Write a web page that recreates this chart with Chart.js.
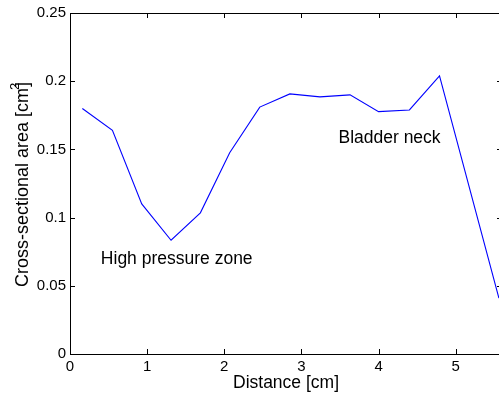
<!DOCTYPE html>
<html>
<head>
<meta charset="utf-8">
<script src="https://cdn.jsdelivr.net/npm/chart.js@4.4.1/dist/chart.umd.min.js"></script>
<style>
  html, body { margin: 0; padding: 0; background: #fff; overflow: hidden; }
  #wrap { width: 530px; height: 394px; }
</style>
</head>
<body>
<div id="wrap"><canvas id="c" width="530" height="394"></canvas></div>
<script>
// Data
const distance = [0.16, 0.55, 0.93, 1.31, 1.69, 2.07, 2.46, 2.85, 3.24, 3.63, 4.00, 4.40, 4.79, 5.56];
const area     = [0.180, 0.164, 0.110, 0.0834, 0.1035, 0.1476, 0.181, 0.1907, 0.1885, 0.1900, 0.1777, 0.1789, 0.2039, 0.041];
const xTicks = [0, 1, 2, 3, 4, 5];
const yTicks = [0, 0.05, 0.1, 0.15, 0.2, 0.25];
const xLabel = 'Distance [cm]';
const yLabelMain = 'Cross-sectional area [cm';
const yLabelSup = '2';
const yLabelEnd = ']';
const notes = [
  { text: 'High pressure zone', x: 0.40, y: 0.0693 },
  { text: 'Bladder neck', x: 3.48, y: 0.158 }
];

const FONT = '"Liberation Sans", Arial, Helvetica, sans-serif';

const boxPlugin = {
  id: 'matlabBox',
  afterDraw(chart) {
    const ctx = chart.ctx;
    const a = chart.chartArea;
    const xs = chart.scales.x, ys = chart.scales.y;
    ctx.save();
    ctx.strokeStyle = '#000';
    ctx.lineWidth = 1;
    ctx.beginPath();
    ctx.rect(Math.round(a.left) + 0.5, Math.round(a.top) + 0.5, Math.round(a.right - a.left), Math.round(a.bottom - a.top));
    ctx.stroke();
    const tl = 5;
    ctx.beginPath();
    xTicks.forEach(v => {
      const px = Math.round(xs.getPixelForValue(v)) + 0.5;
      ctx.moveTo(px, a.bottom); ctx.lineTo(px, a.bottom - tl);
      ctx.moveTo(px, a.top); ctx.lineTo(px, a.top + tl);
    });
    yTicks.forEach(v => {
      const py = Math.round(ys.getPixelForValue(v)) + 0.5;
      ctx.moveTo(a.left, py); ctx.lineTo(a.left + tl, py);
      ctx.moveTo(a.right, py); ctx.lineTo(a.right - tl, py);
    });
    ctx.stroke();

    // annotations
    ctx.fillStyle = '#000';
    ctx.font = '17.5px ' + FONT;
    ctx.textAlign = 'left';
    ctx.textBaseline = 'middle';
    notes.forEach(n => {
      ctx.fillText(n.text, xs.getPixelForValue(n.x), ys.getPixelForValue(n.y));
    });

    // y axis label with superscript
    ctx.save();
    ctx.translate(28, 287);
    ctx.rotate(-Math.PI / 2);
    ctx.textBaseline = 'alphabetic';
    ctx.font = '18px ' + FONT;
    ctx.fillText(yLabelMain, 0, 0);
    const w = ctx.measureText(yLabelMain).width;
    ctx.fillText(yLabelEnd, w + 1, 0);
    ctx.font = '13px ' + FONT;
    ctx.fillText(yLabelSup, w - 2, -9);
    ctx.restore();
    ctx.restore();
  }
};

new Chart(document.getElementById('c'), {
  type: 'line',
  data: {
    datasets: [{
      data: distance.map((d, i) => ({ x: d, y: area[i] })),
      borderColor: '#0000ff',
      borderWidth: 1.1,
      pointRadius: 0,
      tension: 0,
      fill: false
    }]
  },
  options: {
    responsive: false,
    animation: false,
    devicePixelRatio: 1,
    layout: { padding: { left: 0, top: 13, right: 28, bottom: 0 } },
    plugins: { legend: { display: false }, tooltip: { enabled: false } },
    scales: {
      x: {
        type: 'linear', min: 0, max: 5.6,
        afterFit(s) { s.height = 40; },
        afterBuildTicks(s) { s.ticks = xTicks.map(v => ({ value: v })); },
        grid: { display: false, drawTicks: false },
        border: { display: false },
        ticks: { color: '#000', font: { family: FONT, size: 15 }, padding: 4, maxRotation: 0,
                 callback: v => String(v) },
        title: { display: true, text: xLabel, color: '#000', font: { family: FONT, size: 17.5 }, padding: { top: 0, bottom: 0 } }
      },
      y: {
        type: 'linear', min: 0, max: 0.25,
        afterFit(s) { s.width = 70; },
        afterBuildTicks(s) { s.ticks = yTicks.map(v => ({ value: v })); },
        grid: { display: false, drawTicks: false },
        border: { display: false },
        ticks: { color: '#000', font: { family: FONT, size: 15 }, padding: 4,
                 callback: v => String(Math.round(v * 100) / 100) }
      }
    }
  },
  plugins: [boxPlugin]
});
</script>
</body>
</html>
